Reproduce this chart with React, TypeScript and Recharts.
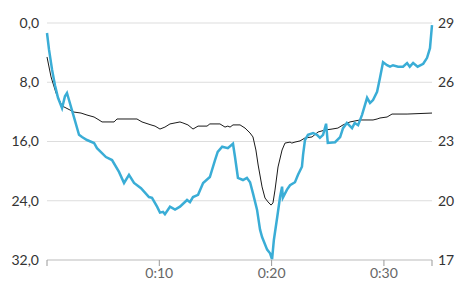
import React from 'react';
import { LineChart, Line, XAxis, YAxis, CartesianGrid } from 'recharts';

// Depth series (minutes, metres)
const depthTimes = [0, 0.18, 0.45, 0.71, 0.98, 1.34, 1.6, 1.78, 1.96, 2.4, 2.85, 3.12, 3.56, 4.19, 4.45, 5.25, 5.79, 6.41, 6.86, 7.3, 7.75, 8.37, 9.08, 9.35, 9.8, 10.06, 10.33, 10.5, 10.95, 11.4, 11.84, 12.47, 12.73, 13.0, 13.45, 13.9, 14.5, 14.96, 15.2, 15.6, 16.1, 16.56, 16.74, 17.0, 17.45, 17.8, 18.08, 18.34, 18.7, 18.97, 19.15, 19.6, 19.86, 20.04, 20.2, 20.5, 20.75, 20.93, 21.0, 21.37, 21.64, 22.08, 22.35, 22.7, 22.8, 22.97, 23.24, 23.69, 24.04, 24.3, 24.58, 24.85, 25.0, 25.65, 26.1, 26.36, 26.7, 27.16, 27.4, 27.7, 28.05, 28.5, 28.76, 29.03, 29.39, 29.65, 29.92, 30.28, 30.54, 30.81, 31.26, 31.7, 32.06, 32.3, 32.6, 33.0, 33.5, 33.84, 34.1, 34.28];
const depthValues = [1.35, 3.6, 6.3, 8.4, 10.1, 11.5, 9.9, 9.45, 10.4, 12.7, 15.1, 15.4, 15.8, 16.2, 16.9, 18.1, 18.5, 20.1, 21.6, 20.5, 21.6, 22.3, 23.5, 23.6, 24.8, 25.6, 25.5, 25.8, 24.8, 25.2, 24.8, 23.9, 24.2, 23.5, 23.2, 21.6, 20.8, 18.5, 17.4, 16.7, 16.9, 16.3, 18.1, 20.9, 21.2, 20.9, 21.5, 23.0, 25.2, 27.9, 28.9, 30.6, 31.1, 31.9, 29.3, 26.2, 23.5, 22.1, 23.6, 22.5, 21.9, 21.5, 20.5, 19.4, 17.8, 15.8, 15.1, 14.85, 15.1, 15.5, 15.1, 13.6, 16.2, 16.1, 15.4, 14.2, 13.5, 14.2, 13.5, 13.8, 12.4, 10.1, 10.8, 10.4, 9.3, 7.4, 5.3, 5.7, 5.9, 5.7, 5.9, 5.9, 5.4, 5.9, 5.4, 5.9, 5.5, 4.7, 3.4, 0.3];

// Temperature series (minutes, °C)
const tempTimes = [0, 0.36, 0.8, 1.34, 1.69, 2.4, 3.03, 3.56, 4.19, 4.63, 4.9, 5.97, 6.23, 8.01, 8.46, 9.26, 9.62, 10.06, 10.5, 10.95, 11.4, 11.84, 12.1, 12.55, 13.0, 13.45, 14.25, 14.5, 15.4, 15.85, 16.1, 16.3, 16.56, 17.19, 17.63, 18.08, 18.34, 18.6, 18.8, 19.15, 19.41, 19.68, 19.95, 20.12, 20.3, 20.57, 20.93, 21.19, 21.64, 21.8, 22.08, 22.53, 22.97, 23.6, 24.13, 24.75, 25.38, 25.9, 26.36, 26.98, 27.87, 29.03, 29.39, 29.65, 30.28, 30.72, 32.06, 34.28];
const tempValues = [27.28, 26.27, 25.46, 24.8, 24.7, 24.49, 24.44, 24.34, 24.24, 24.09, 23.99, 23.99, 24.14, 24.14, 23.99, 23.84, 23.78, 23.63, 23.73, 23.89, 23.94, 23.99, 23.94, 23.84, 23.63, 23.78, 23.78, 23.89, 23.89, 23.73, 23.78, 23.73, 23.84, 23.84, 23.68, 23.43, 23.23, 22.57, 21.81, 20.7, 20.14, 19.94, 19.78, 19.89, 20.54, 21.71, 22.57, 22.92, 22.97, 22.92, 22.97, 23.03, 23.18, 23.23, 23.48, 23.58, 23.63, 23.68, 23.84, 23.99, 24.09, 24.09, 24.14, 24.19, 24.24, 24.39, 24.39, 24.44];

const xTicks = [0, 10, 20, 30, 34.28];
const depthTicks = [0, 8, 16, 24, 32];
const tempTicks = [17, 20, 23, 26, 29];

const depthData = depthTimes.map((t, i) => ({ t, depth: depthValues[i] }));
const tempData = tempTimes.map((t, i) => ({ t, temp: tempValues[i] }));

const font = 'Lato';

export default function App() {
  return (
    <div style={{ position: 'absolute', left: 0, top: 0 }}>
      <LineChart width={476} height={299} margin={{ top: 23, right: 0, bottom: 0, left: 0 }}>
        <CartesianGrid yAxisId="left" vertical={false} stroke="#dddddd" strokeWidth={1} />
        <XAxis
          dataKey="t"
          type="number"
          domain={[0, 34.28]}
          ticks={xTicks}
          allowDuplicatedCategory={false}
          tickFormatter={(v: number) => (v > 0 && v % 10 === 0 ? `0:${v}` : '')}
          height={39}
          stroke="#cccccc"
          tickLine={{ stroke: '#999999' }}
          tickSize={6}
          tickMargin={2}
          tick={{ fill: '#666666', fontSize: 14, fontFamily: font }}
        />
        <YAxis
          yAxisId="left"
          orientation="left"
          domain={[0, 32]}
          reversed
          ticks={depthTicks}
          width={47}
          axisLine={false}
          tickLine={false}
          tickSize={6}
          tickMargin={2}
          tickFormatter={(v: number) => v.toFixed(1).replace('.', ',')}
          tick={{ fill: '#333333', fontSize: 14, fontFamily: font }}
        />
        <YAxis
          yAxisId="right"
          orientation="right"
          domain={[17, 29]}
          ticks={tempTicks}
          width={44}
          axisLine={false}
          tickLine={false}
          tickSize={6}
          tickMargin={0}
          tick={{ fill: '#333333', fontSize: 14, fontFamily: font }}
        />
        <Line
          yAxisId="right"
          data={tempData}
          dataKey="temp"
          type="linear"
          stroke="#1a1a1a"
          strokeWidth={1}
          dot={false}
          isAnimationActive={false}
        />
        <Line
          yAxisId="left"
          data={depthData}
          dataKey="depth"
          type="linear"
          stroke="#3aadd6"
          strokeWidth={2.5}
          dot={false}
          isAnimationActive={false}
        />
      </LineChart>
    </div>
  );
}
